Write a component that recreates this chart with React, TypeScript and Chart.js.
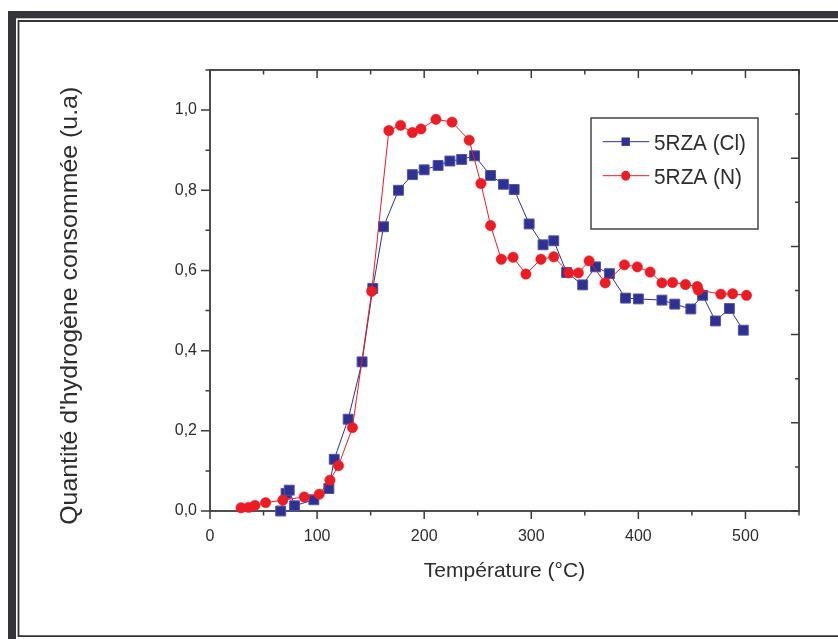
import React, { useEffect, useRef } from 'react';
import { Chart, registerables } from 'chart.js';

Chart.register(...registerables);

// ---- Data ----
const clTemperature = [66, 71, 74, 79, 97, 111, 116, 129, 142, 152, 162, 176, 189, 200, 213, 224, 235, 247, 262, 274, 284, 298, 311, 321, 333, 348, 360, 373, 388, 400, 422, 434, 449, 460, 472, 485, 498];
const clAmount = [0.0, 0.044, 0.052, 0.013, 0.028, 0.056, 0.129, 0.229, 0.372, 0.555, 0.709, 0.8, 0.839, 0.851, 0.862, 0.873, 0.877, 0.886, 0.837, 0.815, 0.802, 0.716, 0.664, 0.674, 0.595, 0.564, 0.609, 0.592, 0.531, 0.529, 0.526, 0.516, 0.504, 0.538, 0.474, 0.505, 0.451];

const nTemperature = [29, 36, 42, 52, 68, 88, 102, 112, 120, 133, 151, 167, 178, 189, 197, 211, 226, 242, 253, 262, 272, 283, 295, 309, 321, 335, 344, 354, 369, 387, 399, 411, 422, 432, 444, 455, 456, 477, 488, 501];
const nAmount = [0.008, 0.009, 0.014, 0.021, 0.027, 0.035, 0.042, 0.077, 0.113, 0.208, 0.548, 0.949, 0.962, 0.944, 0.953, 0.977, 0.97, 0.925, 0.817, 0.712, 0.628, 0.633, 0.591, 0.628, 0.634, 0.594, 0.594, 0.624, 0.569, 0.614, 0.609, 0.596, 0.569, 0.57, 0.565, 0.56, 0.551, 0.541, 0.542, 0.538];

const seriesLabels = ['5RZA (Cl)', '5RZA (N)'];
const xAxisTitle = 'Température (°C)';
const yAxisTitle = "Quantité d'hydrogène consommée (u.a)";
const xMin = 0;
const xMax = 550;
const yMin = 0;
const yMax = 1.1;

const BLUE = '#2e3192';
const BLUE_EDGE = '#5054a6';
const RED = '#ec1c24';
const INK = '#2d2d2d';
const AXIS = '#3c3c40';
const FRAME = '#353539';
const FONT = "'Liberation Sans', Arial, sans-serif";

const isMultiple = (v: number, step: number) => Math.abs(v / step - Math.round(v / step)) < 1e-6;

const decorPlugin = {
  id: 'decor',
  beforeDraw(chart: any) {
    const { ctx, width, height } = chart;
    ctx.save();
    ctx.fillStyle = '#ffffff';
    ctx.fillRect(0, 0, width, height);
    ctx.fillStyle = FRAME;
    ctx.fillRect(8, 11, 8, height - 11);
    ctx.fillRect(8, 11, width - 8, 7.3);
    ctx.strokeStyle = FRAME;
    ctx.lineWidth = 1.8;
    ctx.beginPath();
    ctx.moveTo(width, 21);
    ctx.lineTo(18.5, 21);
    ctx.lineTo(18.5, 636.2);
    ctx.lineTo(width, 636.2);
    ctx.stroke();
    ctx.restore();
  },
  beforeDatasetsDraw(chart: any) {
    const { ctx, chartArea } = chart;
    const { left, right, top, bottom } = chartArea;
    const x = chart.scales.x;
    const y = chart.scales.y;
    const y2 = chart.scales.y2;
    ctx.save();
    ctx.strokeStyle = AXIS;
    ctx.lineWidth = 1.5;
    ctx.beginPath();
    for (let v = xMin; v <= xMax + 1e-6; v += 50) {
      const px = x.getPixelForValue(v);
      const major = isMultiple(v, 100);
      ctx.moveTo(px, bottom);
      ctx.lineTo(px, bottom + (major ? 8 : 4.5));
      ctx.moveTo(px, top);
      ctx.lineTo(px, top + (major ? 8 : 4.5));
    }
    for (let i = 0; i <= 11; i++) {
      const py = y.getPixelForValue(i * 0.1);
      const major = i % 2 === 0;
      ctx.moveTo(left - (major ? 9 : 4.5), py);
      ctx.lineTo(left, py);
    }
    for (let i = 0; i <= 10; i++) {
      const py = y2.getPixelForValue(i * 0.1);
      const major = i % 2 === 0;
      ctx.moveTo(right - (major ? 8 : 4), py);
      ctx.lineTo(right, py);
    }
    ctx.stroke();
    ctx.lineWidth = 1.8;
    ctx.strokeRect(left, top, right - left, bottom - top);
    ctx.restore();
  },
  afterDraw(chart: any) {
    const { ctx } = chart;
    ctx.save();
    ctx.translate(77.2, 305.8);
    ctx.rotate(-Math.PI / 2);
    ctx.font = `24px ${FONT}`;
    const w = ctx.measureText(yAxisTitle).width;
    ctx.scale(438 / w, 1);
    ctx.textAlign = 'center';
    ctx.textBaseline = 'alphabetic';
    ctx.fillStyle = INK;
    ctx.fillText(yAxisTitle, 0, 0);
    ctx.restore();

    ctx.save();
    ctx.fillStyle = '#ffffff';
    ctx.fillRect(591, 118, 167, 111);
    ctx.strokeStyle = '#444448';
    ctx.lineWidth = 1.5;
    ctx.strokeRect(591, 118, 167, 111);
    const colors = [BLUE, RED];
    const targetWidths = [92, 88];
    seriesLabels.forEach((label, i) => {
      const ry = 141.7 + i * 34;
      ctx.strokeStyle = colors[i];
      ctx.lineWidth = 1;
      ctx.beginPath();
      ctx.moveTo(602.7, ry);
      ctx.lineTo(649.3, ry);
      ctx.stroke();
      ctx.fillStyle = colors[i];
      if (i === 0) {
        ctx.fillRect(625.7 - 4.2, ry - 4.2, 8.4, 8.4);
      } else {
        ctx.beginPath();
        ctx.ellipse(625.7, ry, 4.5, 5, 0, 0, Math.PI * 2);
        ctx.fill();
      }
      ctx.save();
      ctx.fillStyle = INK;
      ctx.font = `22.5px ${FONT}`;
      ctx.textAlign = 'left';
      ctx.textBaseline = 'alphabetic';
      const tw = ctx.measureText(label).width;
      ctx.translate(654, ry + 8);
      ctx.scale(targetWidths[i] / tw, 1);
      ctx.fillText(label, 0, 0);
      ctx.restore();
    });
    ctx.restore();
  },
};

export default function App() {
  const canvasRef = useRef<HTMLCanvasElement | null>(null);

  useEffect(() => {
    if (!canvasRef.current) return;
    const chart = new Chart(canvasRef.current, {
      type: 'line',
      data: {
        datasets: [
          {
            label: seriesLabels[0],
            data: clTemperature.map((t, i) => ({ x: t, y: clAmount[i] })),
            borderColor: BLUE,
            backgroundColor: BLUE,
            borderWidth: 1,
            pointStyle: 'rect',
            pointRadius: 7,
            pointHoverRadius: 7,
            pointBackgroundColor: BLUE,
            pointBorderColor: BLUE_EDGE,
            pointBorderWidth: 1,
            tension: 0,
            clip: false,
            order: 1,
            yAxisID: 'y',
          },
          {
            label: seriesLabels[1],
            data: nTemperature.map((t, i) => ({ x: t, y: nAmount[i] })),
            borderColor: RED,
            backgroundColor: RED,
            borderWidth: 1,
            pointStyle: 'circle',
            pointRadius: 5.2,
            pointHoverRadius: 5.2,
            pointBackgroundColor: RED,
            pointBorderColor: RED,
            pointBorderWidth: 0.5,
            tension: 0,
            clip: false,
            order: 0,
            yAxisID: 'y',
          },
        ],
      },
      options: {
        responsive: false,
        animation: false,
        devicePixelRatio: 1,
        layout: { padding: { top: 70, right: 39, left: 0, bottom: 0 } },
        plugins: {
          legend: { display: false },
          tooltip: { enabled: false },
          title: { display: false },
        },
        scales: {
          x: {
            type: 'linear',
            position: 'bottom',
            min: xMin,
            max: xMax,
            grid: { display: false, drawTicks: false },
            border: { display: false },
            ticks: {
              stepSize: 100,
              autoSkip: false,
              maxRotation: 0,
              padding: 15.5,
              color: INK,
              font: { family: FONT, size: 16 },
              callback: (v: any) => (isMultiple(Number(v), 100) ? String(v) : ''),
            },
            title: {
              display: true,
              text: xAxisTitle,
              color: INK,
              font: { family: FONT, size: 21 },
              padding: { top: 0, bottom: 55.6 },
            },
            afterFit: (s: any) => {
              s.height = 128;
            },
          },
          y: {
            type: 'linear',
            position: 'left',
            min: yMin,
            max: yMax,
            grid: { display: false, drawTicks: false },
            border: { display: false },
            ticks: {
              stepSize: 0.2,
              autoSkip: false,
              padding: 13,
              color: INK,
              font: { family: FONT, size: 16 },
              callback: (v: any) => {
                const n = Number(v);
                return isMultiple(n, 0.2) ? n.toFixed(1).replace('.', ',') : '';
              },
            },
            afterFit: (s: any) => {
              s.width = 210;
            },
          },
          y2: {
            type: 'linear',
            position: 'right',
            display: false,
            min: 0,
            max: 1,
          },
        },
      },
      plugins: [decorPlugin],
    });
    return () => chart.destroy();
  }, []);

  return (
    <div style={{ position: 'fixed', left: 0, top: 0, width: 838, height: 639, background: '#fff' }}>
      <canvas ref={canvasRef} width={838} height={639} />
    </div>
  );
}
